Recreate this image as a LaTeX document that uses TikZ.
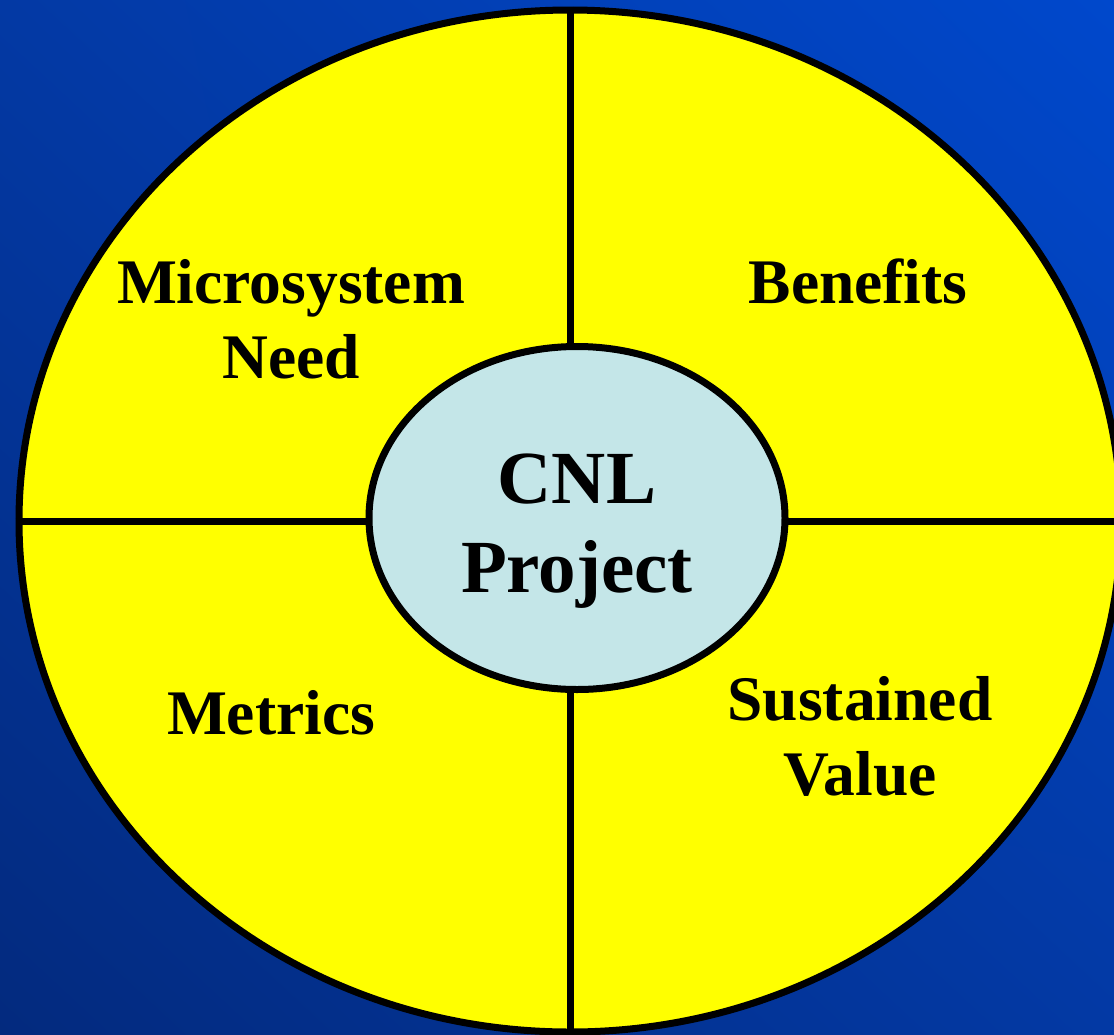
\documentclass[tikz,border=0pt]{standalone}
\usepackage{fontspec}
\setmainfont{Liberation Serif}
\usetikzlibrary{shapes.geometric,positioning,shadings}
\definecolor{bgdark}{HTML}{032A7E}
\definecolor{bgmid}{HTML}{0339A4}
\definecolor{bglight}{HTML}{0048CC}
\definecolor{wheel}{HTML}{FFFF00}
\definecolor{hub}{HTML}{C4E6E8}

\tikzset{
  quarter/.style={font=\bfseries\fontsize{63.5}{75}\selectfont,align=center,anchor=base},
  hubtext/.style={font=\bfseries\fontsize{75}{89}\selectfont,align=center,anchor=base}
}

\begin{document}
\begin{tikzpicture}[x=1pt,y=-1pt]
  \useasboundingbox (0,0) rectangle (1114,1034);
  \clip (0,0) rectangle (1114,1034);
  \shade[lower left=bgdark,upper right=bglight,upper left=bgmid,lower right=bgmid] (0,0) rectangle (1114,1034);
  % wheel
  \node[ellipse,draw,line width=7pt,fill=wheel,inner sep=0pt,minimum width=1102pt,minimum height=1022pt] (wheel) at (570,521) {};
  \draw[line width=7pt] (wheel.north)--(wheel.south);
  \draw[line width=7pt] (wheel.west)--(wheel.east);
  % hub
  \node[ellipse,draw,line width=7pt,fill=hub,inner sep=0pt,minimum width=416pt,minimum height=343pt] (hub) at (577,518) {};
  \node[hubtext] (project) at (577,592) {CNL\\Project};
  % quarters (base = last line)
  \node[quarter] (need) at (291,378) {Microsystem\\Need};
  \node[quarter] (benefits) at (858,303) {Benefits};
  \node[quarter] (metrics) at (271,734) {Metrics};
  \node[quarter] (value) at (860,795) {Sustained\\Value};
\end{tikzpicture}
\end{document}
